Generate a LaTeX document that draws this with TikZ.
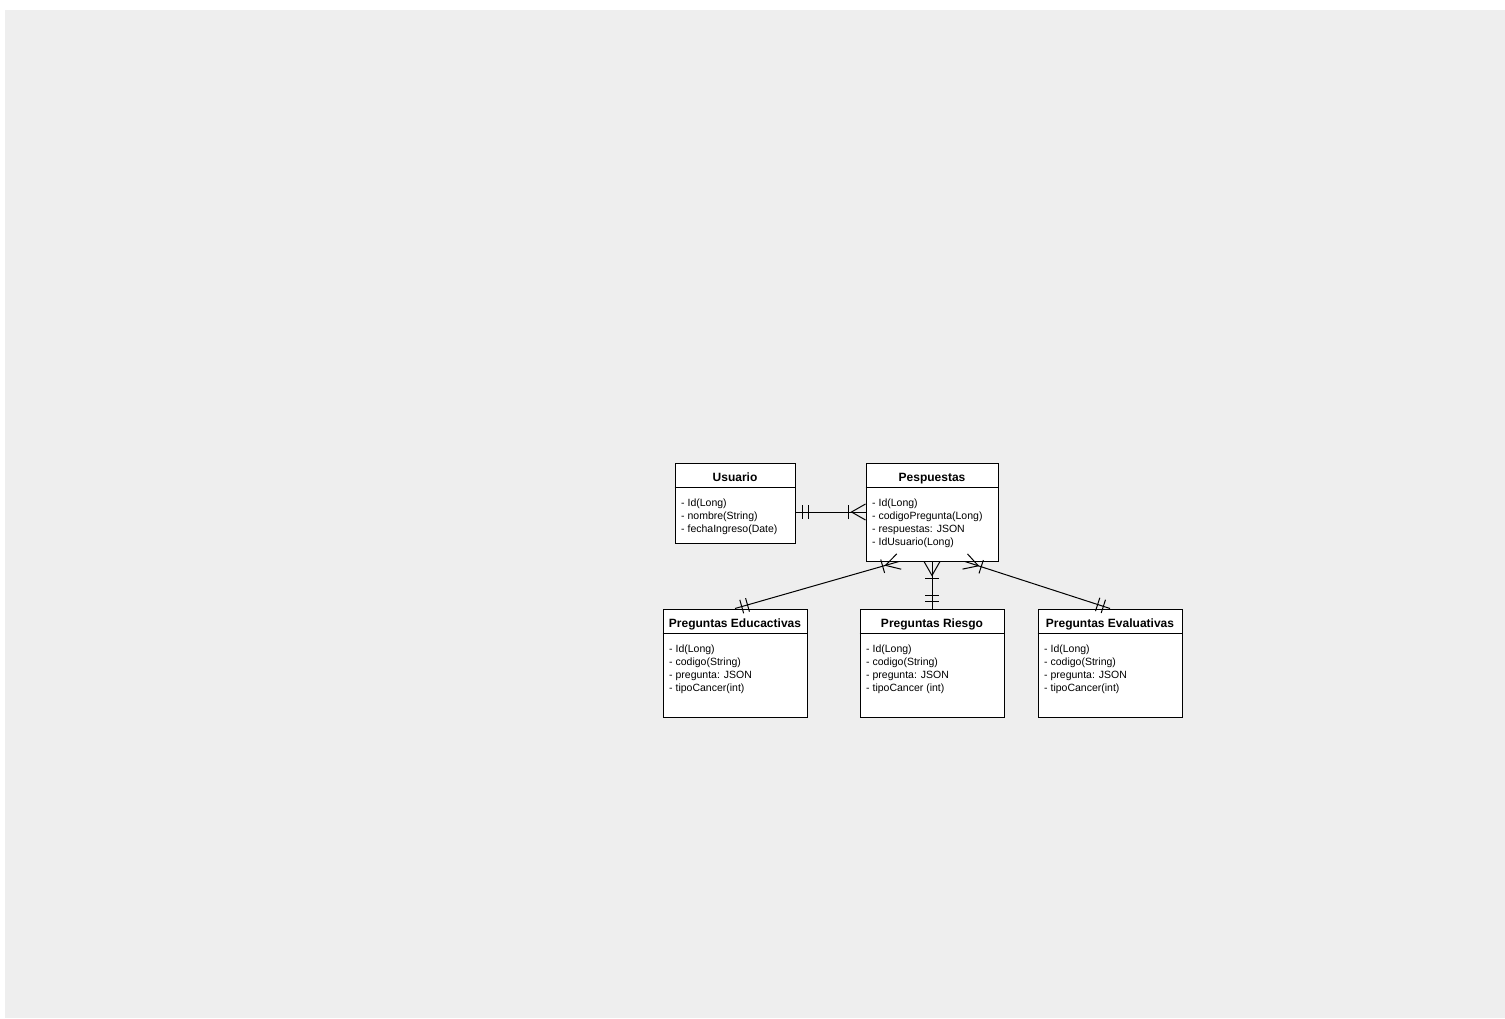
\documentclass[tikz,border=0pt]{standalone}
\usepackage{fontspec}
\setmainfont{Liberation Sans}
\usetikzlibrary{calc}
\definecolor{bggray}{HTML}{EEEEEE}
\newcommand\ermOne[2]{%
  \draw[conn] ($(#1)!7pt!(#2)$) coordinate (ma) ($(ma)!7pt!90:(#2)$) -- ($(ma)!7pt!-90:(#2)$);
  \draw[conn] ($(#1)!13pt!(#2)$) coordinate (mb) ($(mb)!7pt!90:(#2)$) -- ($(mb)!7pt!-90:(#2)$);
}
\newcommand\ermMany[2]{%
  \draw[conn] ($(#1)!8pt!90:(#2)$) -- ($(#1)!14pt!(#2)$) -- ($(#1)!8pt!-90:(#2)$);
  \draw[conn] ($(#1)!17pt!(#2)$) coordinate (mc) ($(mc)!7pt!90:(#2)$) -- ($(mc)!7pt!-90:(#2)$);
}
\tikzset{
  ent/.style={draw=black, fill=white, line width=1pt, rectangle, inner sep=0pt},
  ttl/.style={font=\bfseries\fontsize{12}{14}\selectfont, inner sep=0pt, anchor=base},
  attr/.style={font=\fontsize{10.5}{13}\selectfont, inner sep=0pt, anchor=base west},
  conn/.style={draw=black, line width=1pt},
}
\begin{document}
\begin{tikzpicture}[x=1pt,y=-1pt]
\useasboundingbox (0,0) rectangle (1505,1019);
\fill[white] (0,0) rectangle (1505,1019);
\fill[bggray] (5,10) rectangle (1505,1018);

% Usuario
\node[ent, minimum width=120pt, minimum height=80pt] (usr) at (735,503) {};
\draw[conn] ($(usr.north west)+(0,25)$) -- ($(usr.north east)+(0,25)$);
\node[ttl] (usrT) at (735,481.5) {Usuario};
\node[attr] (usr1) at (681,506) {- Id(Long)};
\node[attr] (usr2) at (681,519) {- nombre(String)};
\node[attr] (usr3) at (681,532) {- fechaIngreso(Date)};

% Pespuestas
\node[ent, minimum width=132pt, minimum height=98pt] (pes) at (932,512) {};
\draw[conn] ($(pes.north west)+(0,25)$) -- ($(pes.north east)+(0,25)$);
\node[ttl] (pesT) at (932,481.5) {Pespuestas};
\node[attr] (pes1) at (872,506) {- Id(Long)};
\node[attr] (pes2) at (872,519) {- codigoPregunta(Long)};
\node[attr] (pes3) at (872,532) {- respuestas: JSON};
\node[attr] (pes4) at (872,545) {- IdUsuario(Long)};

% Preguntas Educactivas
\node[ent, minimum width=144pt, minimum height=108pt] (edu) at (735,663) {};
\draw[conn] ($(edu.north west)+(0,25)$) -- ($(edu.north east)+(0,25)$);
\node[ttl] (eduT) at (735,627.5) {Preguntas Educactivas};
\node[attr] (edu1) at (669,652) {- Id(Long)};
\node[attr] (edu2) at (669,665) {- codigo(String)};
\node[attr] (edu3) at (669,678) {- pregunta: JSON};
\node[attr] (edu4) at (669,691) {- tipoCancer(int)};

% Preguntas Riesgo
\node[ent, minimum width=144pt, minimum height=108pt] (rie) at (932,663) {};
\draw[conn] ($(rie.north west)+(0,25)$) -- ($(rie.north east)+(0,25)$);
\node[ttl] (rieT) at (932,627.5) {Preguntas Riesgo};
\node[attr] (rie1) at (866,652) {- Id(Long)};
\node[attr] (rie2) at (866,665) {- codigo(String)};
\node[attr] (rie3) at (866,678) {- pregunta: JSON};
\node[attr] (rie4) at (866,691) {- tipoCancer (int)};

% Preguntas Evaluativas
\node[ent, minimum width=144pt, minimum height=108pt] (eva) at (1110,663) {};
\draw[conn] ($(eva.north west)+(0,25)$) -- ($(eva.north east)+(0,25)$);
\node[ttl] (evaT) at (1110,627.5) {Preguntas Evaluativas};
\node[attr] (eva1) at (1044,652) {- Id(Long)};
\node[attr] (eva2) at (1044,665) {- codigo(String)};
\node[attr] (eva3) at (1044,678) {- pregunta: JSON};
\node[attr] (eva4) at (1044,691) {- tipoCancer(int)};

% connectors
\coordinate (usrE) at (pes.west -| usr.east);
\coordinate (pesL) at ($(pes.south)+(-33,0)$);
\coordinate (pesR) at ($(pes.south)+(33,0)$);

\draw[conn] (usrE) -- (pes.west);
\ermOne{usrE}{pes.west}
\ermMany{pes.west}{usrE}

\draw[conn] (edu.north) -- (pesL);
\ermOne{edu.north}{pesL}
\ermMany{pesL}{edu.north}

\draw[conn] (rie.north) -- (pes.south);
\ermOne{rie.north}{pes.south}
\ermMany{pes.south}{rie.north}

\draw[conn] (eva.north) -- (pesR);
\ermOne{eva.north}{pesR}
\ermMany{pesR}{eva.north}
\end{tikzpicture}
\end{document}
